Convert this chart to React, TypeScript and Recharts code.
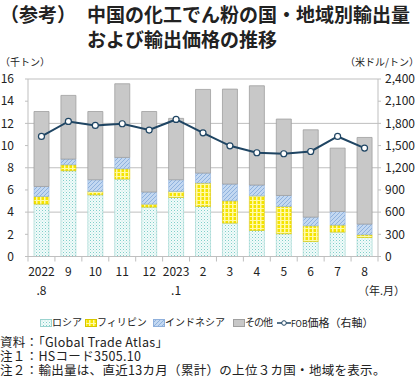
import React from 'react';
import { ComposedChart, Bar, Line, XAxis, YAxis, CartesianGrid } from 'recharts';

// values (thousand tonnes, USD/tonne)
const months = ['2022\n.8', '9', '10', '11', '12', '2023\n.1', '2', '3', '4', '5', '6', '7', '8'];
const russia = [4.72, 7.73, 5.56, 6.98, 4.45, 5.32, 4.51, 3.01, 2.35, 2.05, 1.35, 2.2, 1.71];
const philippines = [0.69, 0.54, 0.3, 0.93, 0.27, 0.54, 2.11, 2.01, 3.12, 2.46, 1.42, 0.63, 0.25];
const indonesia = [0.9, 0.51, 1.06, 1.02, 1.09, 1.06, 0.9, 1.51, 0.97, 0.99, 0.78, 1.23, 0.96];
const others = [6.76, 5.74, 6.15, 6.64, 7.26, 5.53, 7.54, 8.56, 8.95, 6.89, 7.87, 5.71, 7.81];
const fobPrice = [1623, 1826, 1772, 1795, 1710, 1853, 1672, 1497, 1403, 1389, 1420, 1623, 1466];

const leftTicks = [0, 2, 4, 6, 8, 10, 12, 14, 16];
const rightTicks = [0, 300, 600, 900, 1200, 1500, 1800, 2100, 2400];

const data = months.map((m, i) => ({
  month: m,
  russia: russia[i],
  philippines: philippines[i],
  indonesia: indonesia[i],
  others: others[i],
  fob: fobPrice[i],
}));

const FONT = '"Noto Sans CJK JP", "Noto Sans", sans-serif';
const GRID = '#bfbfbf';
const LINE = '#1f4563';
const BAND = 350 / 13;

const MonthTick = (props: any) => {
  const { x, y, payload, index } = props;
  const lines = String(payload.value).split('\n');
  const half = BAND / 2;
  return (
    <g>
      <line x1={x - half} x2={x - half} y1={y} y2={y + 5} stroke={GRID} />
      {index === months.length - 1 && (
        <line x1={x + half} x2={x + half} y1={y} y2={y + 5} stroke={GRID} />
      )}
      <text x={x} y={y + 19} textAnchor="middle" fontSize={12} fill="#222" fontFamily={FONT}>
        {lines.map((l, k) => (
          <tspan key={k} x={x} dy={k === 0 ? 0 : 19}>{l}</tspan>
        ))}
      </text>
    </g>
  );
};

const Patterns = () => (
  <svg width={0} height={0} style={{ position: 'absolute' }}>
    <defs>
      <pattern id="pRussia" width={3} height={3} patternUnits="userSpaceOnUse">
        <rect width={3} height={3} fill="#f2fbfa" />
        <rect x={0} y={0} width={1} height={1} fill="#7fcfc9" />
        <rect x={1.5} y={1.5} width={1} height={1} fill="#b3e3e0" />
      </pattern>
      <pattern id="pPhil" width={4} height={4} patternUnits="userSpaceOnUse">
        <rect width={4} height={4} fill="#f5e400" />
        <rect x={0} y={0} width={1.5} height={4} fill="#fffaa8" />
        <rect x={0} y={0} width={4} height={1} fill="#fffaa8" />
      </pattern>
      <pattern id="pIndo" width={4} height={4} patternUnits="userSpaceOnUse">
        <rect width={4} height={4} fill="#c3d8f1" />
        <path d="M0,4 L4,0 M-1,1 L1,-1 M3,5 L5,3" stroke="#8fb2de" strokeWidth={1} />
      </pattern>
    </defs>
  </svg>
);

const legendItems = [
  { label: 'ロシア', fill: 'url(#pRussia)', stroke: '#9bd3cf', left: 40 },
  { label: 'フィリピン', fill: 'url(#pPhil)', stroke: '#d6c600', left: 85 },
  { label: 'インドネシア', fill: 'url(#pIndo)', stroke: '#8fb0dc', left: 153 },
  { label: 'その他', fill: '#c8c8c8', stroke: '#a0a0a0', left: 233 },
];

const text = (style: React.CSSProperties): React.CSSProperties => ({
  position: 'absolute',
  fontFamily: FONT,
  color: '#222',
  whiteSpace: 'nowrap',
  ...style,
});

export default function App() {
  return (
    <div style={{ position: 'absolute', left: 0, top: 0, width: 420, height: 378, background: '#fff', overflow: 'hidden' }}>
      <Patterns />
      <div style={text({ left: 0, top: 1, fontSize: 19, fontWeight: 700, lineHeight: '25px' })}>（参考）</div>
      <div style={text({ left: 87, top: 1, fontSize: 19, fontWeight: 700, lineHeight: '25px' })}>
        中国の化工でん粉の国・地域別輸出量
        <br />
        および輸出価格の推移
      </div>
      <div style={text({ left: 0, top: 55, fontSize: 10, lineHeight: '14px' })}>（千トン）</div>
      <div style={text({ right: 1, top: 55, fontSize: 10, lineHeight: '14px' })}>（米ドル/トン）</div>

      <div style={{ position: 'absolute', left: 0, top: 0 }}>
        <ComposedChart
          width={420}
          height={300}
          data={data}
          margin={{ top: 79, right: 0, bottom: 0, left: 0 }}
          barSize={15}
        >
          <CartesianGrid yAxisId="left" vertical={false} stroke={GRID} />
          <XAxis
            dataKey="month"
            height={43.5}
            interval={0}
            tickLine={false}
            tickSize={0}
            tickMargin={0}
            axisLine={{ stroke: GRID }}
            tick={<MonthTick />}
          />
          <YAxis
            yAxisId="left"
            width={28}
            domain={[0, 16]}
            ticks={leftTicks}
            tickSize={3}
            tickMargin={11}
            tickLine={{ stroke: GRID }}
            axisLine={{ stroke: GRID }}
            tick={{ fontSize: 12, fill: '#222', fontFamily: FONT }}
          />
          <YAxis
            yAxisId="right"
            orientation="right"
            width={42}
            domain={[0, 2400]}
            ticks={rightTicks}
            tickSize={3}
            tickMargin={4}
            tickLine={{ stroke: GRID }}
            axisLine={{ stroke: GRID }}
            tickFormatter={(v: number) => v.toLocaleString('en-US')}
            tick={{ fontSize: 12, fill: '#222', fontFamily: FONT }}
          />
          <Bar yAxisId="left" dataKey="russia" stackId="a" fill="url(#pRussia)" stroke="#9bd3cf" strokeWidth={0.6} isAnimationActive={false} />
          <Bar yAxisId="left" dataKey="philippines" stackId="a" fill="url(#pPhil)" stroke="#d6c600" strokeWidth={0.6} isAnimationActive={false} />
          <Bar yAxisId="left" dataKey="indonesia" stackId="a" fill="url(#pIndo)" stroke="#8fb0dc" strokeWidth={0.6} isAnimationActive={false} />
          <Bar yAxisId="left" dataKey="others" stackId="a" fill="#c8c8c8" stroke="#a0a0a0" strokeWidth={0.8} isAnimationActive={false} />
          <Line
            yAxisId="right"
            type="linear"
            dataKey="fob"
            stroke={LINE}
            strokeWidth={2}
            dot={{ r: 3, fill: '#fff', stroke: LINE, strokeWidth: 1.2 }}
            isAnimationActive={false}
          />
        </ComposedChart>
      </div>

      <div style={text({ left: 358, top: 282, fontSize: 11, lineHeight: '16px' })}>（年.月）</div>

      {legendItems.map((it) => (
        <React.Fragment key={it.label}>
          <svg width={12} height={8} style={{ position: 'absolute', left: it.left, top: 319 }}>
            <rect x={0.5} y={0.5} width={11} height={7} fill={it.fill} stroke={it.stroke} />
          </svg>
          <div style={text({ left: it.left + 12, top: 315, fontSize: 10, lineHeight: '14px', letterSpacing: it.label === 'その他' ? -1 : 0 })}>{it.label}</div>
        </React.Fragment>
      ))}
      <svg width={14} height={8} style={{ position: 'absolute', left: 277, top: 319 }}>
        <line x1={0} x2={14} y1={4} y2={4} stroke={LINE} strokeWidth={1.5} />
        <circle cx={7} cy={4} r={2.3} fill="#fff" stroke={LINE} strokeWidth={1} />
      </svg>
      <div style={text({ left: 291, top: 315, fontSize: 11, lineHeight: '14px' })}>
        <span style={{ fontSize: 8.5 }}>FOB</span>価格（右軸）
      </div>

      <div style={text({ left: 0, top: 335, fontSize: 12.5, lineHeight: '14px', letterSpacing: 0.3 })}>資料：「Global Trade Atlas」</div>
      <div style={text({ left: 0, top: 349, fontSize: 12.5, lineHeight: '14px', letterSpacing: 0.3 })}>注１：HSコード3505.10</div>
      <div style={text({ left: 0, top: 363, fontSize: 12.5, lineHeight: '14px', letterSpacing: 0.3 })}>注２：輸出量は、直近13カ月（累計）の上位３カ国・地域を表示。</div>
    </div>
  );
}
